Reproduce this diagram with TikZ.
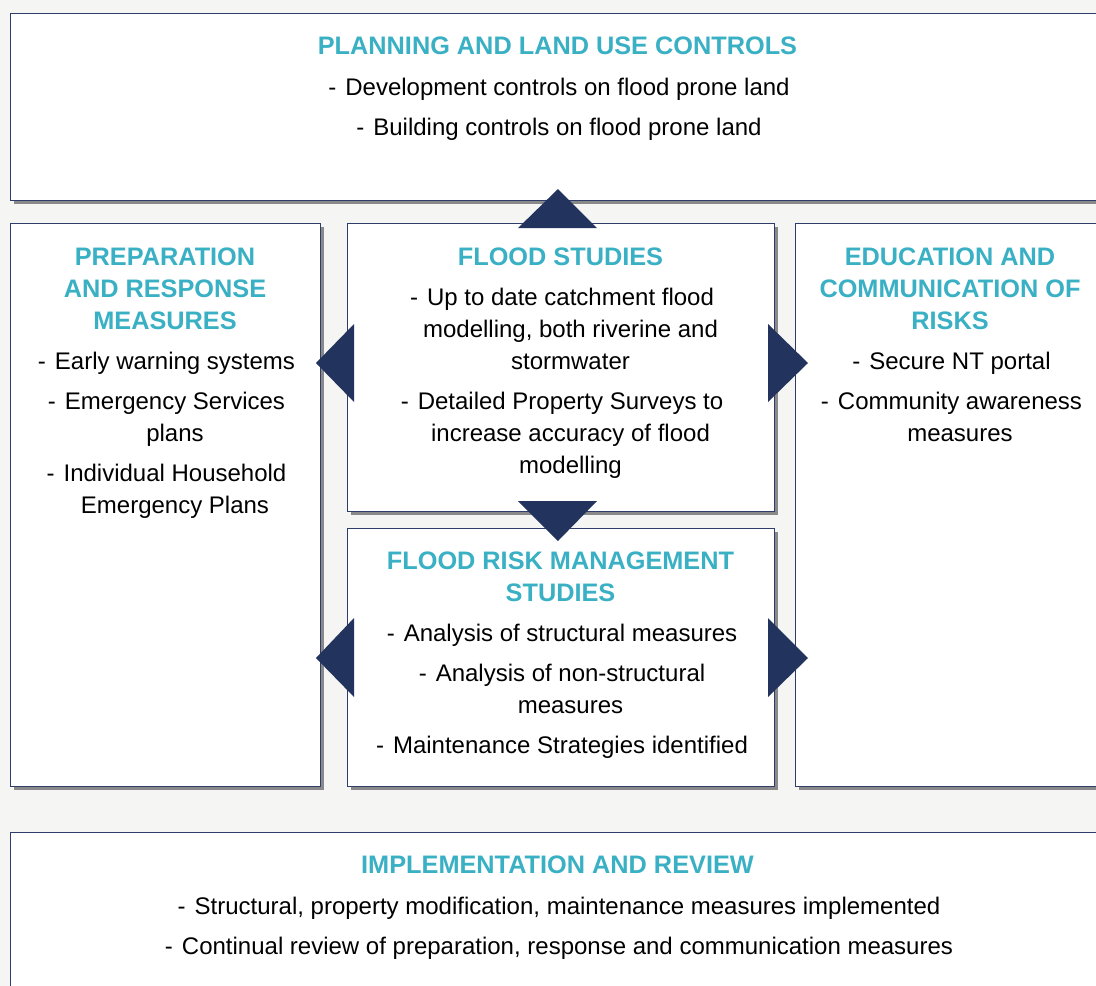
\documentclass[tikz,border=0pt]{standalone}
\usepackage{fontspec}
\setmainfont{Liberation Sans}
\usetikzlibrary{shadows}
\definecolor{bgc}{HTML}{F5F5F3}
\definecolor{edgec}{HTML}{2E3D6A}
\definecolor{arrc}{HTML}{22335E}
\definecolor{titc}{HTML}{3AB0C4}
\tikzset{
  panel/.style={draw=edgec, line width=1.3pt, fill=white, anchor=north west, inner sep=0pt,
    drop shadow={shadow xshift=3pt, shadow yshift=-3pt, fill=black!60, opacity=0.75}},
  ttl/.style={anchor=north, inner sep=0pt, align=center, text=titc,
    font=\fontsize{25.3}{32}\selectfont\bfseries},
  body/.style={anchor=north, inner sep=0pt, align=center, text=black,
    font=\fontsize{24}{32}\selectfont},
  tri/.style={fill=arrc, draw=none}
}
\newcommand{\dsh}{\llap{-\hspace{9pt}}}
\begin{document}
\begin{tikzpicture}[x=1pt,y=-1pt]
\useasboundingbox (0,0) rectangle (1096,986);
\fill[bgc] (0,0) rectangle (1096,986);
\clip (0,0) rectangle (1096,986);
% panels
\node[panel, minimum width=1095pt, minimum height=187pt] (top) at (10,13) {};
\node[panel, minimum width=310pt, minimum height=563pt] (prep) at (10,223) {};
\node[panel, minimum width=427pt, minimum height=288pt] (fs) at (347,223) {};
\node[panel, minimum width=310pt, minimum height=563pt] (edu) at (795,223) {};
\node[panel, minimum width=427pt, minimum height=258pt] (frm) at (347,528) {};
\node[panel, minimum width=1095pt, minimum height=190pt] (impl) at (10,832) {};
% texts
\node[ttl] (toptitle) at (557.5,37) {PLANNING AND LAND USE CONTROLS};
\node[body] (toptext) at (567.5,78) {\dsh Development controls on flood prone land\\[8pt]\dsh Building controls on flood prone land};
\node[ttl] (preptitle) at (165,248) {PREPARATION\\AND RESPONSE\\MEASURES};
\node[body] (preptext) at (175,352) {\dsh Early warning systems\\[8pt]\dsh Emergency Services\\plans\\[8pt]\dsh Individual Household\\Emergency Plans};
\node[ttl] (fstitle) at (560.5,248) {FLOOD STUDIES};
\node[body] (fstext) at (570.5,288) {\dsh Up to date catchment flood\\modelling, both riverine and\\stormwater\\[8pt]\dsh Detailed Property Surveys to\\increase accuracy of flood\\modelling};
\node[ttl] (edutitle) at (950,248) {EDUCATION AND\\COMMUNICATION OF\\RISKS};
\node[body] (edutext) at (960,352) {\dsh Secure NT portal\\[8pt]\dsh Community awareness\\measures};
\node[ttl] (frmtitle) at (560.5,552) {FLOOD RISK MANAGEMENT\\STUDIES};
\node[body] (frmtext) at (570.5,624) {\dsh Analysis of structural measures\\[8pt]\dsh Analysis of non-structural\\measures\\[8pt]\dsh Maintenance Strategies identified};
\node[ttl] (impltitle) at (557.5,856) {IMPLEMENTATION AND REVIEW};
\node[body] (impltext) at (567.5,897) {\dsh Structural, property modification, maintenance measures implemented\\[8pt]\dsh Continual review of preparation, response and communication measures};
% arrow triangles
\fill[tri] (518,228) -- (558,189) -- (597,228) -- cycle;
\fill[tri] (518,501) -- (558,541) -- (597,501) -- cycle;
\fill[tri] (354,324) -- (316,363) -- (354,402) -- cycle;
\fill[tri] (768,324) -- (808,363) -- (768,402) -- cycle;
\fill[tri] (354,618) -- (316,658) -- (354,697) -- cycle;
\fill[tri] (768,618) -- (808,658) -- (768,697) -- cycle;
\end{tikzpicture}
\end{document}
